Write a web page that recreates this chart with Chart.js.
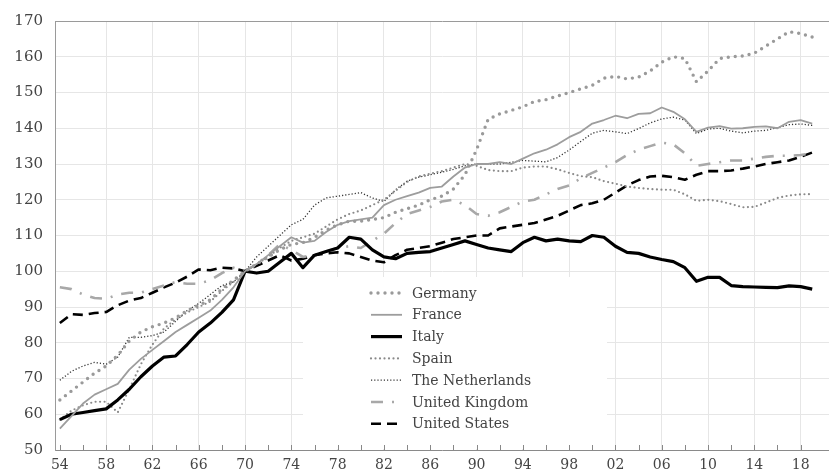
<!DOCTYPE html>
<html>
<head>
<meta charset="utf-8">
<script src="https://cdn.jsdelivr.net/npm/chart.js@4.4.1/dist/chart.umd.min.js"></script>
<style>
  html, body { margin: 0; padding: 0; background: #fff; }
  #wrap { width: 829px; height: 474px; }
</style>
</head>
<body>
<div id="wrap"><canvas id="chart" width="829" height="474"></canvas></div>
<script>
// years 1954 - 2019 (1970 = 100)
const years = [
  1954, 1955, 1956, 1957, 1958, 1959, 1960, 1961, 1962, 1963, 1964, 1965, 1966, 1967, 1968, 1969,
  1970, 1971, 1972, 1973, 1974, 1975, 1976, 1977, 1978, 1979,
  1980, 1981, 1982, 1983, 1984, 1985, 1986, 1987, 1988, 1989,
  1990, 1991, 1992, 1993, 1994, 1995, 1996, 1997, 1998, 1999,
  2000, 2001, 2002, 2003, 2004, 2005, 2006, 2007, 2008, 2009,
  2010, 2011, 2012, 2013, 2014, 2015, 2016, 2017, 2018, 2019
];

const germany = [
  64, 66.5, 69, 71.5, 73.5, 76.5, 80.5, 83, 84.5, 85.5, 87, 89, 90.5, 92, 95, 97.5,
  100, 102, 104, 106, 107.5, 108, 109.5, 111.5, 113, 114,
  114, 114.5, 115, 116.5, 117.5, 118.5, 120, 121, 123, 127,
  134, 142.5, 144, 145, 146, 147.5, 148, 149, 150, 151,
  152, 154, 154.5, 153.8, 154.3, 156, 158.5, 160, 159.5, 153,
  156, 159.5, 160, 160.2, 161, 163, 165, 167, 166.5, 165.5
];
const france = [
  56, 59.5, 63, 65.5, 67, 68.5, 72.5, 75.5, 78, 80.5, 83, 85, 87, 89, 92, 95.5,
  100, 102, 104.5, 107, 109.5, 108, 108.5, 111, 113, 114,
  114.5, 115, 118.5, 120, 121, 122, 123.3, 123.7, 126.5, 129,
  130, 130, 130.5, 130, 131.5, 133, 134, 135.5, 137.5, 139,
  141.3, 142.3, 143.5, 142.8, 144, 144.2, 145.8, 144.6, 142.5, 139,
  140.2, 140.6, 139.9, 140, 140.4, 140.5, 140, 141.8, 142.3, 141.3
];
const italy = [
  58.5, 60, 60.5, 61, 61.5, 64, 67, 70.5, 73.5, 76, 76.3, 79.5, 83, 85.5, 88.5, 92,
  100, 99.5, 100, 102.5, 105, 101, 104.5, 105.5, 106.5, 109.5,
  109, 106, 104, 103.5, 105, 105.3, 105.5, 106.5, 107.5, 108.5,
  107.5, 106.5, 106, 105.5, 108, 109.5, 108.5, 109, 108.5, 108.3,
  110, 109.5, 107, 105.3, 105, 104, 103.3, 102.7, 101, 97.2,
  98.3, 98.3, 96, 95.7, 95.6, 95.5, 95.4, 95.9, 95.7, 95
];
const spain = [
  58.5, 61, 62.5, 63.5, 63.5, 60.5, 67, 74, 79.5, 84, 86.5, 88.5, 90, 91.5, 94.5, 97,
  100, 102, 104, 106.5, 108.5, 109.5, 110.5, 112.5, 114.5, 116,
  117, 118.5, 120, 122.5, 125, 126.5, 127.3, 128, 129, 130,
  129.5, 128.3, 128, 128, 129, 129.3, 129.3, 128.5, 127.5, 126.6,
  126.3, 125.2, 124.5, 123.7, 123.3, 123, 122.8, 122.8, 121.5, 119.7,
  120, 119.6, 118.8, 117.9, 118, 119.2, 120.5, 121.2, 121.5, 121.6
];
const netherlands = [
  69.5, 72, 73.5, 74.5, 74, 76, 81.5, 81.5, 82, 83, 86, 89, 91, 93.5, 96, 97,
  100, 104, 107, 110, 113, 114.5, 118.5, 120.5, 121, 121.5,
  122, 120.5, 119.5, 122.8, 125.2, 126.3, 127, 127.7, 128.5, 129.5,
  130, 130, 130, 130.5, 131, 130.8, 130.6, 131.8, 133.9, 136.3,
  138.6, 139.4, 139, 138.5, 139.9, 141.5, 142.6, 143.1, 142.3, 138.5,
  139.8, 140, 139.2, 138.7, 139.2, 139.4, 140.2, 141, 141.2, 140.8
];
const unitedKingdom = [
  95.5, 95, 93.5, 92.5, 92.3, 93.5, 94, 94, 95, 96, 97, 96.5, 96.5, 97.5, 99.5, 101,
  100, 102, 104.5, 107.5, 106, 104, 104.5, 105.5, 106.5, 107,
  106.5, 108.5, 110.5, 113.5, 116, 117, 118, 119.5, 120, 118.5,
  116, 115.5, 116.5, 118, 119.5, 120, 121.5, 123, 124, 126,
  127.5, 129, 130.5, 132.5, 134, 135, 136, 135.5, 133, 129.5,
  130, 130.5, 131, 131, 131.5, 132, 132.3, 132.3, 132.5, 133
];
const unitedStates = [
  85.5, 88, 87.8, 88.3, 88.6, 90.5, 91.8, 92.5, 94, 95.5, 96.8, 98.5, 100.5, 100.3, 101, 100.8,
  100, 101.5, 103, 104.5, 103, 103.5, 104.5, 105, 105.3, 105,
  104, 103, 102.5, 104.5, 106, 106.5, 107, 108, 109, 109.5,
  110, 110, 112, 112.5, 113, 113.5, 114.5, 115.5, 117, 118.5,
  119, 120, 122, 124, 125.5, 126.5, 126.7, 126.3, 125.6, 127,
  128, 128, 128.2, 128.7, 129.3, 130, 130.5, 131, 132, 133.2
];

// axis ticks
const xTickYears = [1954, 1956, 1958, 1960, 1962, 1964, 1966, 1968, 1970, 1972, 1974, 1976, 1978, 1980,
  1982, 1984, 1986, 1988, 1990, 1992, 1994, 1996, 1998, 2000, 2002, 2004, 2006, 2008, 2010, 2012,
  2014, 2016, 2018];
const xLabelYears = [1954, 1958, 1962, 1966, 1970, 1974, 1978, 1982, 1986, 1990, 1994, 1998, 2002,
  2006, 2010, 2014, 2018];
const yTicks = [50, 60, 70, 80, 90, 100, 110, 120, 130, 140, 150, 160, 170];

const serif = '"DejaVu Serif", "Liberation Serif", serif';

function pts(values) {
  return years.map((yr, i) => ({ x: yr, y: values[i] }));
}

const datasets = [
  { label: "Germany", data: pts(germany), borderColor: "#9a9a9a", borderWidth: 3.4,
    borderDash: [0, 7], borderCapStyle: "round" },
  { label: "France", data: pts(france), borderColor: "#9d9d9d", borderWidth: 1.8 },
  { label: "Italy", data: pts(italy), borderColor: "#000", borderWidth: 3.2 },
  { label: "Spain", data: pts(spain), borderColor: "#8a8a8a", borderWidth: 2.2,
    borderDash: [0, 4.5], borderCapStyle: "round" },
  { label: "The Netherlands", data: pts(netherlands), borderColor: "#333", borderWidth: 1.3,
    borderDash: [1.2, 2] },
  { label: "United Kingdom", data: pts(unitedKingdom), borderColor: "#a8a8a8", borderWidth: 2.6,
    borderDash: [12, 9, 2, 9] },
  { label: "United States", data: pts(unitedStates), borderColor: "#000", borderWidth: 2.6,
    borderDash: [10, 6] },
];
datasets.forEach(d => { d.pointRadius = 0; d.fill = false; d.tension = 0; d.borderJoinStyle = "round"; });

// white legend box inside the plot, plus inward tick marks on the x axis
const legendBox = {
  id: "legendBox",
  beforeDatasetsDraw(chart) {
    const ctx = chart.ctx;
    const area = chart.chartArea;
    const xs = chart.scales.x;
    ctx.save();
    ctx.fillStyle = "#fff";
    ctx.fillRect(303, 277, 304, area.bottom - 277 - 1);

    // tick marks pointing up
    ctx.strokeStyle = "#888";
    ctx.lineWidth = 1;
    xTickYears.forEach(yr => {
      const px = Math.round(xs.getPixelForValue(yr)) + 0.5;
      ctx.beginPath();
      ctx.moveTo(px, area.bottom);
      ctx.lineTo(px, area.bottom - 5);
      ctx.stroke();
    });

    // legend entries
    const rowTop = 293, rowGap = 21.8;
    ctx.font = "14px " + serif;
    ctx.textBaseline = "middle";
    chart.data.datasets.forEach((ds, i) => {
      const cy = rowTop + i * rowGap;
      ctx.strokeStyle = ds.borderColor;
      ctx.lineWidth = ds.borderWidth;
      ctx.lineCap = ds.borderCapStyle || "butt";
      ctx.setLineDash(ds.borderDash || []);
      ctx.beginPath();
      ctx.moveTo(371, cy);
      ctx.lineTo(402, cy);
      ctx.stroke();
      ctx.setLineDash([]);
      ctx.fillStyle = "#444";
      ctx.fillText(ds.label, 412, cy + 1);
    });
    ctx.restore();
  }
};

new Chart(document.getElementById("chart"), {
  type: "line",
  data: { datasets },
  options: {
    responsive: false,
    animation: false,
    layout: { padding: { top: 7, right: 0, left: 0, bottom: 0 } },
    plugins: {
      legend: { display: false },
      tooltip: { enabled: false },
    },
    scales: {
      x: {
        type: "linear",
        min: 1953.58,
        max: 2020.45,
        afterBuildTicks: (scale) => { scale.ticks = xTickYears.map(v => ({ value: v })); },
        afterFit: (scale) => { scale.height = 24; },
        border: { color: "#8a8a8a", width: 1 },
        grid: {
          drawTicks: false,
          color: (c) => (c.tick && xLabelYears.includes(c.tick.value) && c.tick.value !== 1954) ? "#e6e6e6" : "rgba(0,0,0,0)",
          lineWidth: 1,
        },
        ticks: {
          autoSkip: false,
          maxRotation: 0,
          padding: 7,
          color: "#444",
          font: { family: serif, size: 14 },
          callback: (v) => xLabelYears.includes(v) ? String(v % 100).padStart(2, "0") : "",
        },
      },
      y: {
        min: 50,
        max: 170,
        afterBuildTicks: (scale) => { scale.ticks = yTicks.map(v => ({ value: v })); },
        afterFit: (scale) => { scale.width = 55; },
        border: { color: "#9a9a9a", width: 1 },
        grid: {
          drawTicks: false,
          color: (c) => (c.tick && c.tick.value === 170) ? "#9a9a9a" : "#e6e6e6",
          lineWidth: 1,
        },
        ticks: {
          padding: 12,
          color: "#444",
          font: { family: serif, size: 15 },
        },
      },
    },
  },
  plugins: [legendBox],
});
</script>
</body>
</html>
